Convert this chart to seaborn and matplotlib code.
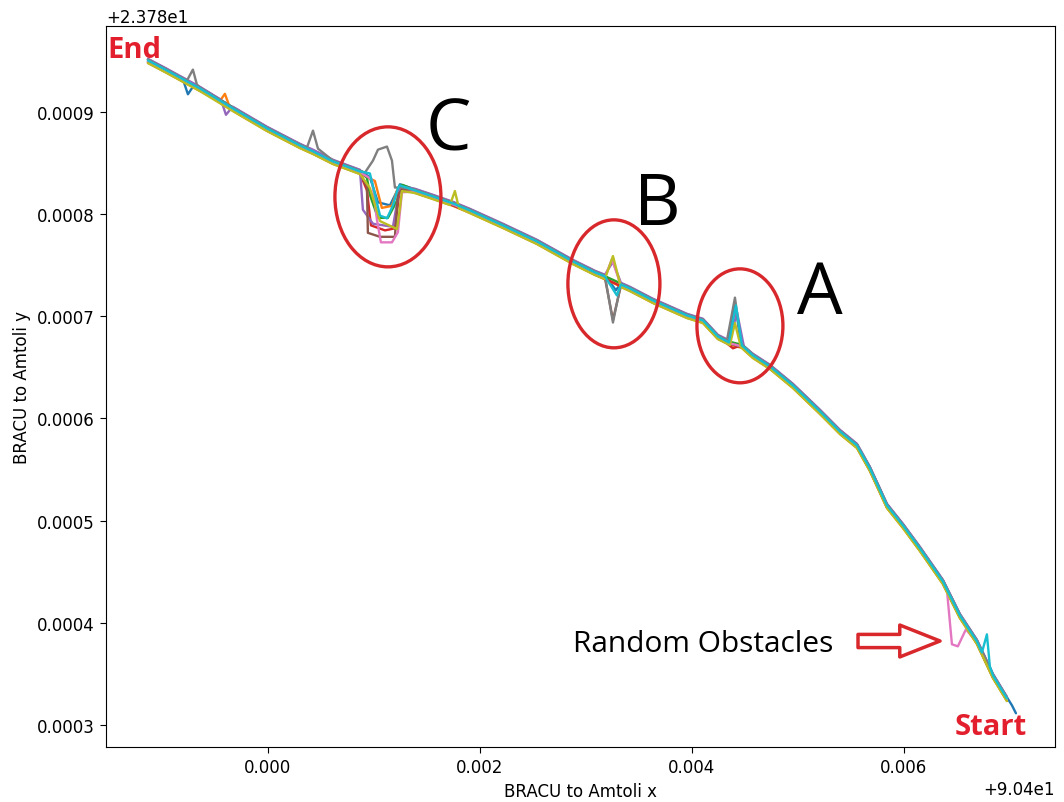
import numpy as np
import pandas as pd
import matplotlib.pyplot as plt
import seaborn as sns
from matplotlib.patches import Ellipse, FancyArrowPatch
from matplotlib.ticker import MultipleLocator

# axes offsets: x = 90.4 + dx*1e-3, y = 23.78 + dy*1e-4
X0, Y0 = 90.4, 23.78

# shared route, End (top left) -> Start (bottom right)
base_dx = [-1.132, -0.953, -0.642, -0.330, -0.009, 0.302, 0.425, 0.613, 0.868, 1.057,
           1.245, 1.387, 1.557, 1.745, 1.906, 2.217, 2.538, 2.877, 3.085, 3.255,
           3.415, 3.632, 3.953, 4.104, 4.245, 4.358, 4.472, 4.575, 4.736, 4.953,
           5.208, 5.396, 5.557, 5.679, 5.840, 5.991, 6.151, 6.368, 6.528, 6.689,
           6.840, 6.972]
base_dy = [9.499, 9.401, 9.225, 9.029, 8.834, 8.667, 8.609, 8.511, 8.413, 8.344,
           8.276, 8.227, 8.168, 8.100, 8.031, 7.885, 7.728, 7.532, 7.425, 7.346,
           7.268, 7.151, 7.004, 6.955, 6.798, 6.740, 6.710, 6.613, 6.505, 6.319,
           6.065, 5.869, 5.732, 5.507, 5.145, 4.949, 4.724, 4.401, 4.068, 3.814,
           3.481, 3.256]

runs = ['run %d' % i for i in range(10)]
lane_shift = [0.015, -0.020, 0.010, -0.015, 0.020, -0.010, -0.005, 0.012, -0.022, 0.004]

# obstacle A
a_gray = [(4.330, 6.750), (4.406, 7.170), (4.462, 6.730)]
a_blue = [(4.340, 6.740), (4.406, 7.121), (4.462, 6.720)]
a_cyan = [(4.349, 6.740), (4.415, 7.102), (4.472, 6.710)]
a_purple = [(4.358, 6.740), (4.425, 7.023), (4.491, 6.681)]
a_olive = [(4.358, 6.740), (4.406, 6.955), (4.462, 6.720)]
a_red = [(4.330, 6.750), (4.387, 6.701), (4.462, 6.730)]

# obstacle B
b_olive = [(3.179, 7.386), (3.255, 7.611), (3.330, 7.307)]
b_pink = [(3.179, 7.386), (3.245, 7.562), (3.330, 7.307)]
b_purple = [(3.179, 7.386), (3.255, 7.513), (3.330, 7.307)]
b_gray = [(3.179, 7.386), (3.255, 6.926), (3.330, 7.307)]
b_brown = [(3.179, 7.386), (3.255, 6.975), (3.330, 7.307)]
b_cyan = [(3.179, 7.386), (3.292, 7.200), (3.330, 7.307)]
b_blue = [(3.179, 7.386), (3.283, 7.239), (3.330, 7.307)]

# obstacle C
c_gray = [(0.915, 8.393), (0.991, 8.511), (1.038, 8.618), (1.123, 8.648),
          (1.170, 8.511), (1.198, 8.247), (1.264, 8.247)]
c_purple = [(0.868, 8.413), (0.896, 8.022), (0.991, 7.885), (1.179, 7.855), (1.245, 8.247)]
c_brown = [(0.934, 8.276), (0.943, 7.826), (1.057, 7.787), (1.198, 7.787),
           (1.226, 8.198), (1.264, 8.247)]
c_pink = [(0.981, 8.344), (1.028, 7.953), (1.066, 7.728), (1.170, 7.728),
          (1.226, 7.826), (1.264, 8.217)]
c_green = [(0.934, 8.344), (0.962, 8.178), (1.038, 7.953), (1.132, 7.953),
           (1.217, 8.119), (1.264, 8.276)]
c_cyan = [(0.962, 8.393), (1.057, 7.982), (1.123, 7.953), (1.179, 8.080), (1.226, 8.247)]
c_olive = [(0.962, 8.276), (1.057, 7.953), (1.217, 7.875), (1.245, 8.080), (1.264, 8.247)]
c_orange = [(1.009, 8.344), (1.075, 8.080), (1.170, 8.100), (1.217, 8.247)]
c_red = [(0.934, 8.247), (0.972, 7.904), (1.104, 7.855), (1.198, 7.875), (1.236, 8.198)]
c_blue = [(0.962, 8.344), (1.038, 8.100), (1.151, 8.070), (1.226, 8.227)]

# small wobbles and random obstacles
gray_bump1 = [(-0.764, 9.294), (-0.708, 9.401), (-0.670, 9.254)]
gray_bump2 = [(0.368, 8.638), (0.425, 8.804), (0.472, 8.628)]
blue_dip = [(-0.802, 9.303), (-0.755, 9.157), (-0.698, 9.245)]
orange_bump = [(-0.453, 9.127), (-0.406, 9.196), (-0.368, 9.088)]
purple_dip = [(-0.443, 9.098), (-0.396, 8.951), (-0.349, 9.010)]
olive_bump = [(1.717, 8.110), (1.764, 8.247), (1.802, 8.080)]
pink_random = [(6.406, 4.323), (6.453, 3.795), (6.509, 3.775), (6.585, 3.941)]
cyan_random = [(6.736, 3.706), (6.783, 3.883), (6.811, 3.569)]
blue_tail = [(6.972, 3.256), (7.019, 3.178), (7.057, 3.100)]

detours = [
    [a_blue, b_blue, c_blue, blue_dip, blue_tail],
    [c_orange, orange_bump],
    [c_green],
    [a_red, c_red],
    [a_purple, b_purple, c_purple, purple_dip],
    [b_brown, c_brown],
    [b_pink, c_pink, pink_random],
    [a_gray, b_gray, c_gray, gray_bump1, gray_bump2],
    [a_olive, b_olive, c_olive, olive_bump],
    [a_cyan, b_cyan, c_cyan, cyan_random],
]


def build_run(segs, shift):
    x = np.array(base_dx)
    y = np.array(base_dy)
    for seg in segs:
        sx, sy = np.array(seg).T
        keep = (x < sx.min()) | (x > sx.max())
        x = np.concatenate([x[keep], sx])
        y = np.concatenate([y[keep], sy])
        order = np.argsort(x, kind='stable')
        x, y = x[order], y[order]
    return x, y + shift


frames = []
for name, segs, shift in zip(runs, detours, lane_shift):
    dx, dy = build_run(segs, shift)
    frames.append(pd.DataFrame({'x': X0 + dx * 1e-3, 'y': Y0 + dy * 1e-4, 'run': name}))
df = pd.concat(frames, ignore_index=True)

sns.set_style('ticks')
plt.rcParams.update({'text.color': 'black', 'axes.labelcolor': 'black',
                     'xtick.color': 'black', 'ytick.color': 'black',
                     'axes.edgecolor': 'black', 'font.size': 12})
fig, ax = plt.subplots(figsize=(10.64, 8.03), dpi=100)
fig.subplots_adjust(left=0.0996, right=0.9915, bottom=0.0685, top=0.9664)

sns.lineplot(data=df, x='x', y='y', hue='run', hue_order=runs, palette='tab10',
             sort=False, estimator=None, legend=False, lw=1.7, ax=ax)

ax.set_xlim(X0 - 0.001528, X0 + 0.007425)
ax.set_ylim(Y0 + 0.0002785, Y0 + 0.000984)
ax.xaxis.set_major_locator(MultipleLocator(0.002))
ax.yaxis.set_major_locator(MultipleLocator(0.0001))
ax.set_xlabel('BRACU to Amtoli x', fontsize=12)
ax.set_ylabel('BRACU to Amtoli y', fontsize=12)
ax.tick_params(labelsize=12, length=4.5)
ax.xaxis.get_offset_text().set_fontsize(12)
ax.yaxis.get_offset_text().set_fontsize(12)

# red circles around the three obstacles
ring = '#d8282c'
for cx, cy, w, h in [(1.132, 8.168, 1.000, 1.370),
                     (3.264, 7.317, 0.868, 1.252),
                     (4.453, 6.906, 0.811, 1.115)]:
    ax.add_patch(Ellipse((X0 + cx * 1e-3, Y0 + cy * 1e-4), w * 1e-3, h * 1e-4,
                         fill=False, ec=ring, lw=2.4, zorder=5))

letter_font = ['Open Sans', 'DejaVu Sans']
fig.text(0.421, 0.8132, 'C', fontsize=52, family=letter_font, ha='center', va='baseline')
fig.text(0.6175, 0.7198, 'B', fontsize=52, family=letter_font, ha='center', va='baseline')
fig.text(0.7707, 0.609, 'A', fontsize=52, family=letter_font, ha='center', va='baseline')

fig.text(0.5385, 0.188, 'Random Obstacles', fontsize=21.5, family=letter_font, va='baseline')
fig.add_artist(FancyArrowPatch((0.8064, 0.2005), (0.8835, 0.2005), transform=fig.transFigure,
                               arrowstyle='simple,head_length=2.9,head_width=2.3,tail_width=0.95',
                               mutation_scale=10, fc='white', ec=ring, lw=2.5,
                               shrinkA=0, shrinkB=0))

fig.text(0.1006, 0.9278, 'End', fontsize=21, fontweight='bold', color='#e31e2d',
         family=letter_font, va='baseline')
fig.text(0.8976, 0.0847, 'Start', fontsize=21, fontweight='bold', color='#e31e2d',
         family=letter_font, va='baseline')

fig.savefig('out.png', dpi=100)
